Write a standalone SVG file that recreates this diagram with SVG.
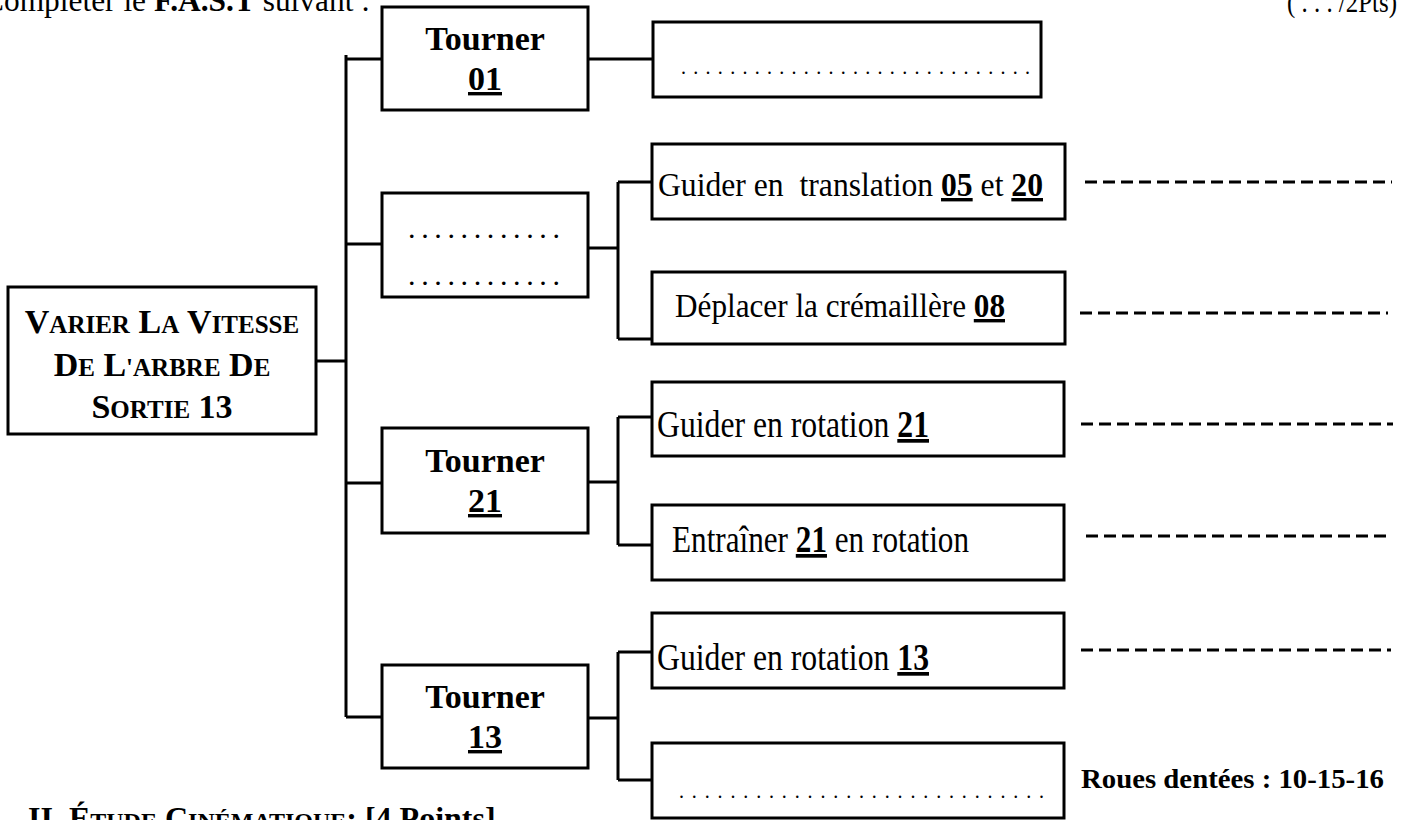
<svg xmlns="http://www.w3.org/2000/svg" width="1404" height="820" viewBox="0 0 1404 820">
<style>
.box{fill:#fff;stroke:#000;stroke-width:3}
.ln{stroke:#000;stroke-width:3;fill:none}
.dash{stroke:#000;stroke-width:3;stroke-dasharray:12 6;fill:none}
.t{font-family:"Liberation Serif","Times New Roman",serif;fill:#000}
.b{font-weight:bold}
.u{text-decoration:underline;text-decoration-thickness:3px}
</style>
<rect width="1404" height="820" fill="#fff"/>
<g id="page-text">
<text class="t" x="-17" y="11" font-size="31" textLength="387" lengthAdjust="spacingAndGlyphs">Compléter le <tspan class="b">F.A.S.T</tspan> suivant :</text>
<text class="t" x="1287" y="12" font-size="30" textLength="110" lengthAdjust="spacingAndGlyphs">( . . . /2Pts)</text>
<text class="t b" x="28" y="829" font-size="32">II. É<tspan font-size="24">TUDE</tspan> C<tspan font-size="24">INÉMATIQUE</tspan>: [4 Points]</text>
</g>
<g id="connectors">
<path class="ln" d="M346,55 V717"/>
<path class="ln" d="M346,59 H382 M346,244 H382 M316,361 H346 M346,483 H382 M346,717 H382"/>
<path class="ln" d="M588,59 H653"/>
<path class="ln" d="M588,248 H618 M618,182 V339 M618,182 H652 M618,339 H652"/>
<path class="ln" d="M588,482 H618 M618,417 V545 M618,417 H652 M618,545 H652"/>
<path class="ln" d="M588,718 H618 M618,652 V780 M618,652 H652 M618,780 H652"/>
<path class="dash" d="M1085,182 H1392"/>
<path class="dash" d="M1080,313 H1388"/>
<path class="dash" d="M1081,424 H1393"/>
<path class="dash" d="M1086,536 H1391"/>
<path class="dash" d="M1081,650 H1391"/>
</g>
<g id="node-main">
<rect class="box" x="8" y="287" width="308" height="147"/>
<text class="t b" x="162" y="333" font-size="34" text-anchor="middle">V<tspan font-size="25">ARIER</tspan> L<tspan font-size="25">A</tspan> V<tspan font-size="25">ITESSE</tspan></text>
<text class="t b" x="162" y="376" font-size="34" text-anchor="middle">D<tspan font-size="25">E</tspan> L<tspan font-size="25">'ARBRE</tspan> D<tspan font-size="25">E</tspan></text>
<text class="t b" x="162" y="418" font-size="34" text-anchor="middle">S<tspan font-size="25">ORTIE</tspan> 13</text>
</g>
<g id="node-tourner01">
<rect class="box" x="382" y="7" width="206" height="103"/>
<text class="t b" x="485" y="50" font-size="34" text-anchor="middle">Tourner</text>
<text class="t b u" x="485" y="90" font-size="34" text-anchor="middle">01</text>
</g>
<g id="node-blank1">
<rect class="box" x="653" y="22" width="388" height="75"/>
<text class="t" x="681" y="74" font-size="20" textLength="349" lengthAdjust="spacing">.............................</text>
</g>
<g id="node-blank2">
<rect class="box" x="382" y="193" width="206" height="104"/>
<text class="t" x="408" y="238" font-size="30" textLength="152" lengthAdjust="spacing">............</text>
<text class="t" x="408" y="285" font-size="30" textLength="152" lengthAdjust="spacing">............</text>
</g>
<g id="node-translation">
<rect class="box" x="652" y="144" width="413" height="75"/>
<text class="t" x="658" y="196" font-size="34" textLength="385" lengthAdjust="spacingAndGlyphs" xml:space="preserve">Guider en  translation <tspan class="b u">05</tspan> et <tspan class="b u">20</tspan></text>
</g>
<g id="node-deplacer">
<rect class="box" x="652" y="272" width="413" height="72"/>
<text class="t" x="675" y="317" font-size="34" textLength="330" lengthAdjust="spacingAndGlyphs">Déplacer la crémaillère <tspan class="b u">08</tspan></text>
</g>
<g id="node-tourner21">
<rect class="box" x="382" y="428" width="206" height="105"/>
<text class="t b" x="485" y="472" font-size="34" text-anchor="middle">Tourner</text>
<text class="t b u" x="485" y="512" font-size="34" text-anchor="middle">21</text>
</g>
<g id="node-guider21">
<rect class="box" x="652" y="382" width="412" height="74"/>
<text class="t" x="657" y="437" font-size="37" textLength="272" lengthAdjust="spacingAndGlyphs">Guider en rotation <tspan class="b u">21</tspan></text>
</g>
<g id="node-entrainer">
<rect class="box" x="652" y="505" width="412" height="75"/>
<text class="t" x="672" y="552" font-size="37" textLength="297" lengthAdjust="spacingAndGlyphs">Entraîner <tspan class="b u">21</tspan> en rotation</text>
</g>
<g id="node-tourner13">
<rect class="box" x="382" y="665" width="206" height="103"/>
<text class="t b" x="485" y="708" font-size="34" text-anchor="middle">Tourner</text>
<text class="t b u" x="485" y="748" font-size="34" text-anchor="middle">13</text>
</g>
<g id="node-guider13">
<rect class="box" x="652" y="613" width="412" height="75"/>
<text class="t" x="657" y="670" font-size="37" textLength="272" lengthAdjust="spacingAndGlyphs">Guider en rotation <tspan class="b u">13</tspan></text>
</g>
<g id="node-blank3">
<rect class="box" x="652" y="743" width="412" height="75"/>
<text class="t" x="679" y="798" font-size="20" textLength="365" lengthAdjust="spacing">.............................</text>
</g>
<g id="label-roues">
<text class="t b" x="1081" y="788" font-size="27" textLength="303" lengthAdjust="spacingAndGlyphs">Roues dentées : 10-15-16</text>
</g>
</svg>
